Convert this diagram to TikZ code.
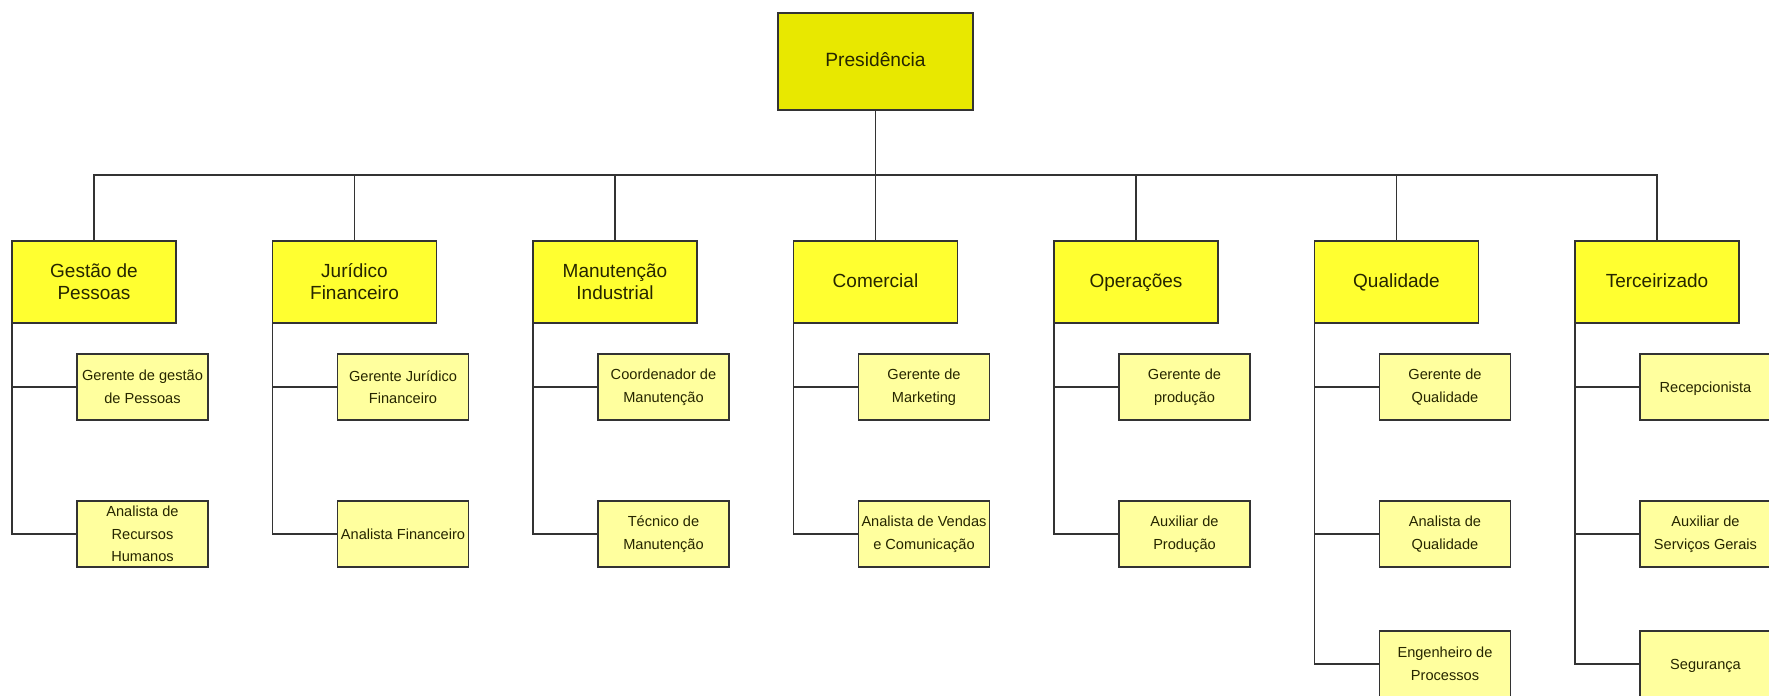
\documentclass[tikz,border=0pt]{standalone}
\usepackage{fontspec}
\setmainfont{Liberation Sans}
\usetikzlibrary{positioning, calc}
\definecolor{presbg}{HTML}{E8E800}
\definecolor{areabg}{HTML}{FFFF30}
\definecolor{rolebg}{HTML}{FFFF9E}
\definecolor{boxborder}{HTML}{333333}
\definecolor{linecol}{HTML}{333333}
\definecolor{textfg}{HTML}{262600}
\tikzset{
    presbox/.style={rectangle, fill=presbg, draw=boxborder, line width=0.9pt, minimum width=97.5pt, minimum height=48.5pt, inner sep=1pt, outer sep=0pt, align=center, font=\fontsize{9.6}{11}\selectfont, text=textfg},
    areabox/.style={rectangle, fill=areabg, draw=boxborder, line width=0.9pt, minimum width=82pt, minimum height=41pt, inner sep=1pt, outer sep=0pt, align=center, font=\fontsize{9.5}{11}\selectfont, text=textfg},
    rolebox/.style={rectangle, fill=rolebg, draw=boxborder, line width=0.9pt, minimum width=65.5pt, minimum height=33pt, inner sep=1pt, outer sep=0pt, align=center, font=\fontsize{7.3}{11.3}\selectfont, text=textfg},
    oneline/.style={text height=7pt, text depth=2pt},
    link/.style={linecol, line width=0.85pt},
}
\begin{document}
\begin{tikzpicture}[x=0.5pt, y=-0.5pt]
\useasboundingbox (0,0) rectangle (1769,696);
\node[presbox, oneline] (pres) at (875.5, 61.5) {Presidência};
% areas
\node[areabox] (gp)  at (94, 282)    {Gestão de\\Pessoas};
\node[areabox] (jf)  at (354.5, 282) {Jurídico\\Financeiro};
\node[areabox] (mi)  at (615, 282)   {Manutenção\\Industrial};
\node[areabox, oneline] (com) at (875.5, 282) {Comercial};
\node[areabox, oneline] (op)  at (1136, 282)  {Operações};
\node[areabox, oneline] (ql)  at (1396.5, 282){Qualidade};
\node[areabox, oneline] (ter) at (1657, 282)  {Terceirizado};
\draw[link] (pres.south) -- ++(0,65) coordinate (bus);
\foreach \a in {gp, jf, mi, com, op, ql, ter}
    \draw[link] (bus) -| (\a.north);
% roles
\node[rolebox] (gp1)  at (142.5, 387)  {Gerente de gestão\\de Pessoas};
\node[rolebox] (gp2)  at (142.5, 534)  {Analista de\\Recursos\\Humanos};
\node[rolebox] (jf1)  at (403, 387)    {Gerente Jurídico\\Financeiro};
\node[rolebox, oneline] (jf2)  at (403, 534)    {Analista Financeiro};
\node[rolebox] (mi1)  at (663.5, 387)  {Coordenador de\\Manutenção};
\node[rolebox] (mi2)  at (663.5, 534)  {Técnico de\\Manutenção};
\node[rolebox] (com1) at (924, 387)    {Gerente de\\Marketing};
\node[rolebox] (com2) at (924, 534)    {Analista de Vendas\\e Comunicação};
\node[rolebox] (op1)  at (1184.5, 387) {Gerente de\\produção};
\node[rolebox] (op2)  at (1184.5, 534) {Auxiliar de\\Produção};
\node[rolebox] (ql1)  at (1445, 387)   {Gerente de\\Qualidade};
\node[rolebox] (ql2)  at (1445, 534)   {Analista de\\Qualidade};
\node[rolebox] (ql3)  at (1445, 664)   {Engenheiro de\\Processos};
\node[rolebox, oneline] (ter1) at (1705.5, 387) {Recepcionista};
\node[rolebox] (ter2) at (1705.5, 534) {Auxiliar de\\Serviços Gerais};
\node[rolebox, oneline] (ter3) at (1705.5, 664) {Segurança};
\foreach \a/\r in {gp/gp1, gp/gp2, jf/jf1, jf/jf2, mi/mi1, mi/mi2, com/com1, com/com2, op/op1, op/op2, ql/ql1, ql/ql2, ql/ql3, ter/ter1, ter/ter2, ter/ter3}
    \draw[link] (\a.south west) |- (\r.west);
\end{tikzpicture}
\end{document}
